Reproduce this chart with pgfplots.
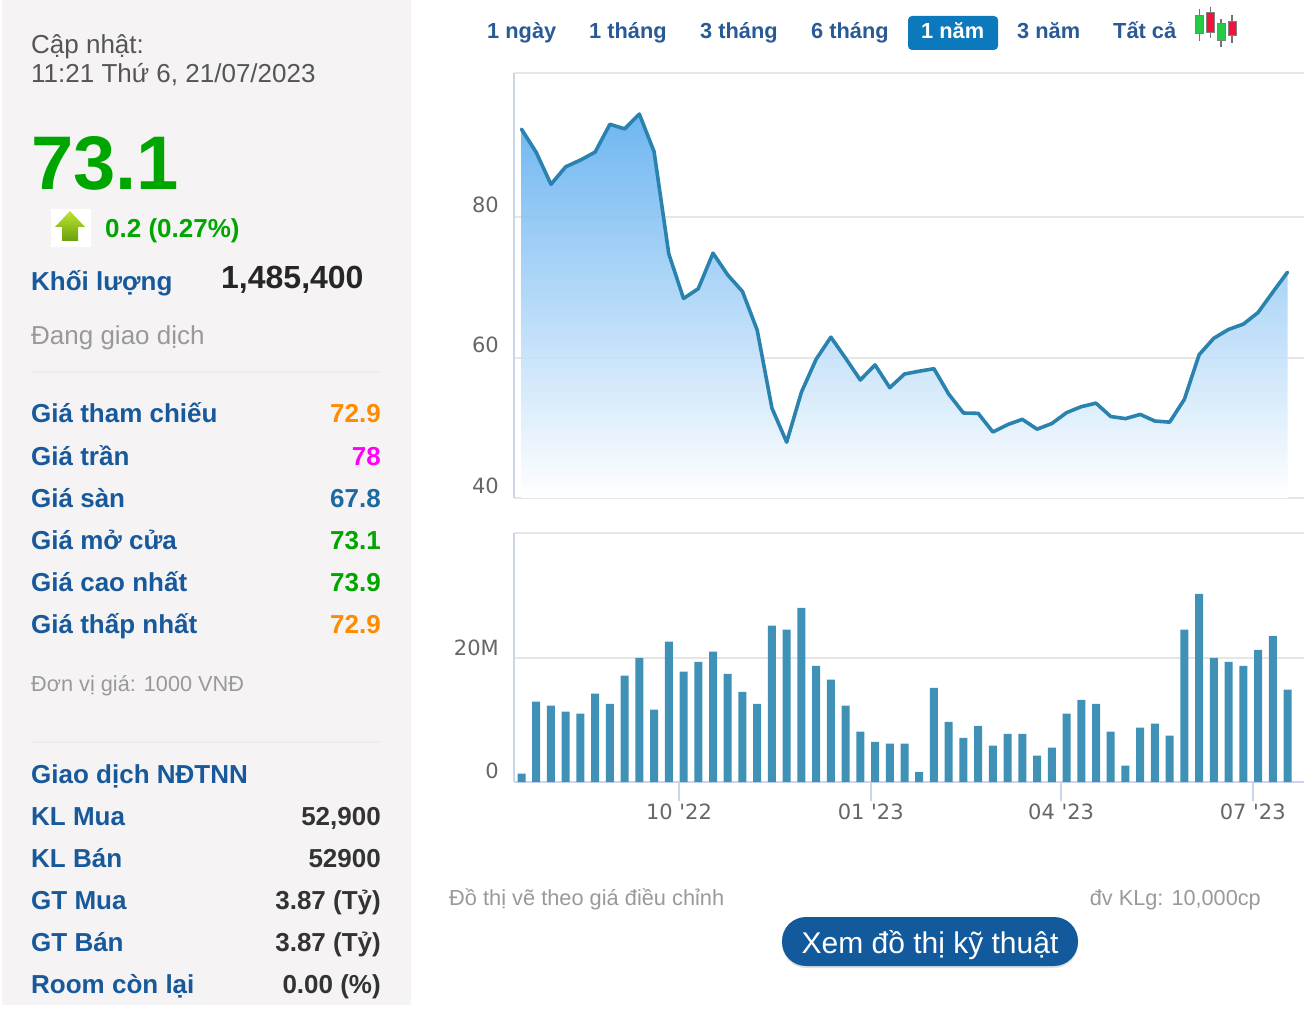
\documentclass[border=0pt]{standalone}
\usepackage{pgfplots}
\usepackage{pgfplotstable}
\usepackage{fontspec}
\pgfplotsset{compat=1.18}
\setmainfont{Liberation Sans}
\newfontfamily\djv{DejaVu Sans}
\newcommand{\fs}[1]{\fontsize{#1}{#1}\selectfont}
\definecolor{panel}{HTML}{F5F3F4}
\definecolor{gridc}{HTML}{E6E6E6}
\definecolor{axisc}{HTML}{CCD6EB}
\definecolor{linec}{HTML}{2A82AE}
\definecolor{barc}{HTML}{3F92B5}
\definecolor{fillc}{HTML}{5FAEF0}
\definecolor{tickc}{HTML}{666666}
\definecolor{blue1}{HTML}{17599B}
\definecolor{tab}{HTML}{2A5A96}
\definecolor{act}{HTML}{0C79BD}
\definecolor{green1}{HTML}{00A600}
\definecolor{orange1}{HTML}{FF8C00}
\definecolor{mag}{HTML}{FF00FF}
\definecolor{sky}{HTML}{1B6AA0}
\definecolor{g9}{HTML}{999999}
\definecolor{g3}{HTML}{333333}
\definecolor{g5}{HTML}{555555}
\definecolor{btn}{HTML}{125A9C}
\definecolor{arrowtop}{HTML}{BEE432}
\definecolor{arrowbot}{HTML}{69A00F}
\definecolor{cgreen}{HTML}{22CC44}
\definecolor{cred}{HTML}{F0143C}
\pgfplotstableread{
i price vol
0 92.5 1.35
1 89.2 13
2 84.65 12.35
3 87.15 11.4
4 88.1 11.05
5 89.25 14.3
6 93.2 12.65
7 92.55 17.2
8 94.65 20.1
9 89.3 11.7
10 74.75 22.7
11 68.4 17.85
12 69.8 19.45
13 74.85 21.1
14 71.75 17.5
15 69.4 14.6
16 63.9 12.65
17 52.8 25.3
18 47.95 24.65
19 55.05 28.2
20 59.75 18.8
21 62.9 16.55
22 59.9 12.35
23 56.8 8.15
24 58.95 6.5
25 55.7 6.2
26 57.65 6.2
27 58.05 1.65
28 58.4 15.25
29 54.8 9.75
30 52.1 7.15
31 52.05 9.1
32 49.4 5.9
33 50.45 7.8
34 51.2 7.8
35 49.8 4.25
36 50.6 5.55
37 52.15 11.05
38 53 13.3
39 53.5 12.65
40 51.6 8.15
41 51.3 2.65
42 51.9 8.8
43 50.95 9.45
44 50.8 7.5
45 54.05 24.65
46 60.4 30.45
47 62.75 20.1
48 64 19.45
49 64.75 18.8
50 66.4 21.4
51 69.3 23.65
52 72.15 14.95
}\datatable
\pgfplotsset{panelaxis/.style={
  scale only axis, width=790pt, anchor=south west,
  xmin=-0.509, xmax=53.12,
  axis x line*=bottom, axis y line*=left,
  x axis line style={-, line width=2pt},
  y axis line style={-, draw=axisc, line width=2pt},
  ymajorgrids, grid style={draw=gridc, line width=2pt},
  major y tick style={draw=none},
  xticklabel style={font=\djv\fs{21}, text=tickc},
  clip=false,
}}
\begin{document}
\begin{tikzpicture}[x=1pt,y=-1pt]
\path[use as bounding box] (0,0) rectangle (1310,1016);
\fill[panel] (1.5,0) rectangle (411,1005);
% sidebar
\node[anchor=base west,inner sep=0,text=g5] at (31,54) {\fs{26}Cập nhật:};
\node[anchor=base west,inner sep=0,text=g5] at (31,83) {\fs{26}11:21 Thứ 6, 21/07/2023};
\node[anchor=base west,inner sep=0,text=green1] at (31,190) {\fs{76}\bfseries 73.1};
\fill[white] (51,209) rectangle (91,247);
\path[top color=arrowtop,bottom color=arrowbot] (70,211)--(85,227)--(78,227)--(78,241)--(62,241)--(62,227)--(55,227)--cycle;
\node[anchor=base west,inner sep=0,text=green1] at (105,238) {\fs{26}\bfseries 0.2 (0.27\%)};
\node[anchor=base west,inner sep=0,text=blue1] at (31,291) {\fs{26}\bfseries Khối lượng};
\node[anchor=base west,inner sep=0,text=black!85] at (221,289) {\fs{32}\bfseries 1,485,400};
\node[anchor=base west,inner sep=0,text=g9] at (31,345) {\fs{26}Đang giao dịch};
\draw[line width=1.5pt,draw=black!7] (31,372)--(381,372);
\foreach \y/\a/\b/\c in {423/Giá tham chiếu/72.9/orange1,465/Giá trần/78/mag,507/Giá sàn/67.8/sky,549/Giá mở cửa/73.1/green1,591/Giá cao nhất/73.9/green1,633/Giá thấp nhất/72.9/orange1}{
  \node[anchor=base west,inner sep=0,text=blue1] at (31,\y) {\fs{26}\bfseries \a};
  \node[anchor=base east,inner sep=0,text=\c] at (381,\y) {\fs{26}\bfseries \b};
}
\node[anchor=base west,inner sep=0,text=g9] at (31,691) {\fs{21.7}Đơn vị giá: 1000 VNĐ};
\draw[line width=1.5pt,draw=black!7] (31,742)--(381,742);
\node[anchor=base west,inner sep=0,text=blue1] at (31,783) {\fs{26}\bfseries Giao dịch NĐTNN};
\foreach \y/\a/\b in {825/KL Mua/52{,}900,867/KL Bán/52900,909/GT Mua/3.87 (Tỷ),951/GT Bán/3.87 (Tỷ),993/Room còn lại/0.00 (\%)}{
  \node[anchor=base west,inner sep=0,text=blue1] at (31,\y) {\fs{26}\bfseries \a};
  \node[anchor=base east,inner sep=0,text=g3] at (381,\y) {\fs{26}\bfseries \b};
}
% tabs
\fill[act,rounded corners=4pt] (908,16) rectangle (998,50);
\foreach \x/\t in {487/1 ngày,589/1 tháng,700/3 tháng,811/6 tháng,1017/3 năm,1113/Tất cả}{
  \node[anchor=base west,inner sep=0,text=tab] at (\x,39) {\fs{21.8}\bfseries \t};
}
\node[anchor=base west,inner sep=0,text=white] at (921,39) {\fs{21.8}\bfseries 1 năm};
% candle icon
\foreach \x/\a/\b/\c/\d/\col in {1199.7/9/41/16/34/cgreen,1210.7/7/38/13/33/cred,1221/19/47/24/41/cgreen,1232/15/43/22/36/cred}{
  \draw[line width=1.5pt,black!55] (\x,\a)--(\x,\b);
  \fill[\col,draw=black!50,line width=1pt] (\x-4,\c) rectangle (\x+4,\d);
}
% footer
\node[anchor=base west,inner sep=0,text=g9] at (449,905) {\fs{21.8}Đồ thị vẽ theo giá điều chỉnh};
\node[anchor=base east,inner sep=0,text=g9] at (1261,905) {\fs{21.7}đv KLg: 10,000cp};
\fill[black!12,rounded corners=24pt] (782,919) rectangle (1078,968);
\fill[btn,rounded corners=24pt] (782,917) rectangle (1078,966);
\node[anchor=base,inner sep=0,text=white] at (930,953) {\fs{30}Xem đồ thị kỹ thuật};
% price
\begin{axis}[panelaxis, at={(514pt,-498pt)}, height=425pt,
  ymin=40, ymax=100.5,
  xtick=\empty,
  x axis line style={-, draw=gridc, line width=2pt},
  ytick={40,60,80,100.5}, yticklabels={40,60,80,{}},
  yticklabel style={font=\djv\fs{21}, text=tickc, inner sep=0pt, yshift=12.5pt, xshift=-15pt},
]
\addplot[draw=none, top color=fillc, bottom color=white, fill opacity=0.9] table[x=i,y=price]{\datatable} \closedcycle;
\addplot[color=linec, line width=3.6pt, line join=round, line cap=round] table[x=i,y=price]{\datatable};
\end{axis}
% volume
\begin{axis}[panelaxis, at={(514pt,-782pt)}, height=249pt,
  ymin=0, ymax=40.3,
  x axis line style={-, draw=axisc, line width=2pt},
  ytick={0,20,40.3}, yticklabels={0,20M,{}},
  yticklabel style={font=\djv\fs{21}, text=tickc, inner sep=0pt, yshift=11pt, xshift=4pt},
  xtick={10.69,23.71,36.63,49.64},
  xticklabels={10 '22,01 '23,04 '23,07 '23},
  tick align=outside, major tick length=19pt,
  major x tick style={draw=axisc, line width=2pt},
  xticklabel style={inner sep=0pt, yshift=-3pt},
]
\addplot[ybar, bar shift=0pt, bar width=8pt, fill=barc, draw=none] table[x=i,y=vol]{\datatable};
\end{axis}
\end{tikzpicture}
\end{document}
